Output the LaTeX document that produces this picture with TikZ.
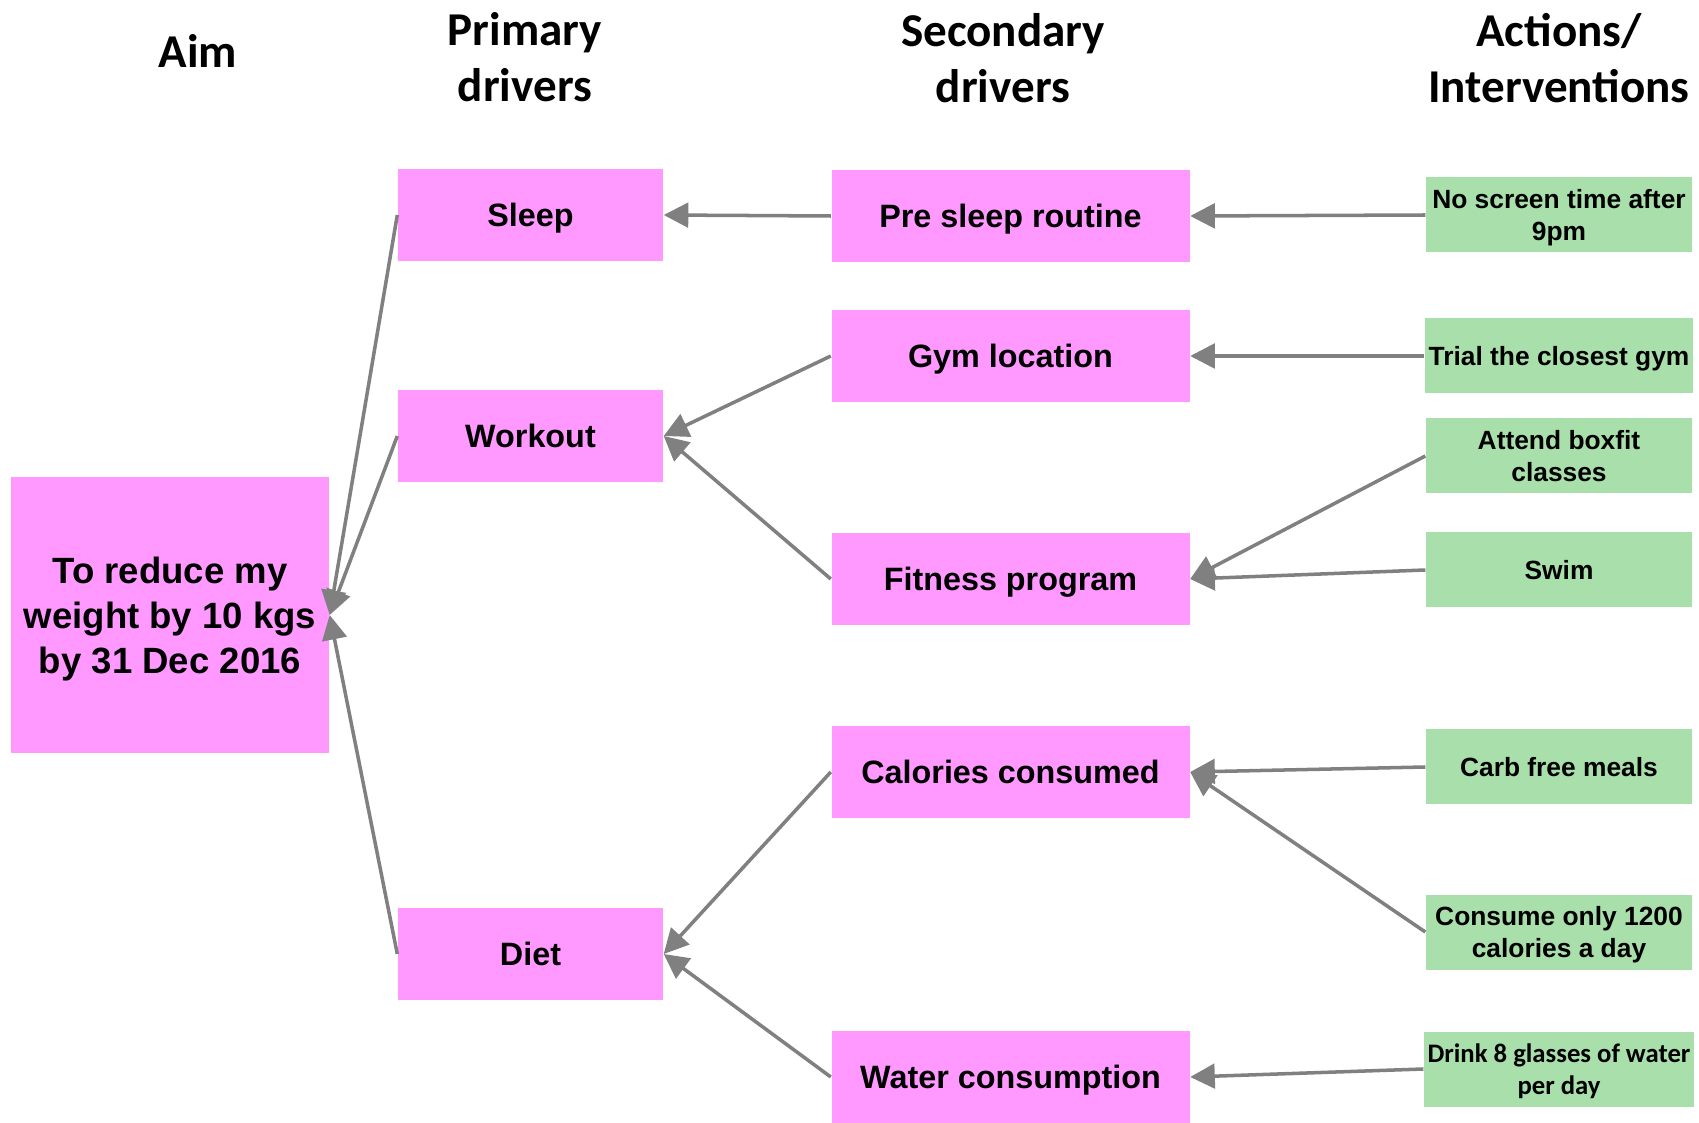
\documentclass[tikz,border=0pt]{standalone}
\usepackage{fontspec}
\setmainfont{Liberation Sans}
\newfontfamily\calibri{Carlito}
\definecolor{pinkbox}{RGB}{255,153,255}
\definecolor{greenbox}{RGB}{169,223,171}
\definecolor{arrowgray}{RGB}{128,128,128}
\usepackage{tikz}
\usetikzlibrary{arrows.meta}

\begin{document}
\begin{tikzpicture}[
  head/.style={font=\calibri\bfseries\fontsize{13.4}{16}\selectfont,align=center},
  aimbox/.style={fill=pinkbox,minimum width=3.18cm,minimum height=2.76cm,text depth=0pt,
                 font=\bfseries\fontsize{10.4}{12.8}\selectfont,align=center},
  pbox/.style={fill=pinkbox,minimum width=2.65cm,minimum height=0.92cm,text depth=0pt,
               font=\bfseries\fontsize{9.2}{11}\selectfont,align=center},
  sbox/.style={pbox,minimum width=3.58cm},
  abox/.style={fill=greenbox,minimum width=2.66cm,minimum height=0.75cm,inner sep=1pt,
               text depth=0pt,font=\bfseries\fontsize{7.5}{9.25}\selectfont,align=center},
  link/.style={draw=arrowgray,line width=1pt,-{Triangle[length=7pt,width=7pt]}}
]
  \useasboundingbox (0,0) rectangle (16.99,11.22);
  % column heads
  \node[head] (haim) at (1.98,10.71) {Aim};
  \node[head] (hprim) at (5.25,10.65) {Primary\\drivers};
  \node[head] (hsec) at (10.03,10.64) {Secondary\\drivers};
  \node[head] (hact) at (15.59,10.64) {Actions/\\Interventions};

  % aim
  \node[aimbox] (aim) at (1.70,5.07) {To reduce my\\weight by 10 kgs\\by 31 Dec 2016};

  % primary drivers
  \node[pbox] (sleep)   at (5.305,9.07) {Sleep};
  \node[pbox] (workout) at (5.305,6.86) {Workout};
  \node[pbox] (diet)    at (5.305,1.68) {Diet};

  % secondary drivers
  \node[sbox] (presleep) at (10.105,9.06) {Pre sleep routine};
  \node[sbox] (gym)      at (10.105,7.66) {Gym location};
  \node[sbox] (fitness)  at (10.105,5.43) {Fitness program};
  \node[sbox] (calories) at (10.105,3.50) {Calories consumed};
  \node[sbox] (water)    at (10.105,0.45) {Water consumption};

  % actions
  \node[abox] (noscreen)   at (15.59,9.07) {No screen time after\\9pm};
  \node[abox] (trialgym)   at (15.59,7.66) {Trial the closest gym};
  \node[abox] (boxfit)     at (15.59,6.66) {Attend boxfit\\classes};
  \node[abox] (swim)       at (15.59,5.52) {Swim};
  \node[abox] (carbfree)   at (15.59,3.55) {Carb free meals};
  \node[abox] (onlycal)    at (15.59,1.90) {Consume only 1200\\calories a day};
  \node[abox,font=\calibri\bfseries\fontsize{7.6}{9.25}\selectfont] (drinkwater) at (15.59,0.53)
    {Drink 8 glasses of water\\per day};

  % links
  \draw[link] (sleep.west) -- (aim.east);
  \draw[link] (workout.west) -- (aim.east);
  \draw[link] (diet.west) -- (aim.east);
  \draw[link] (presleep.west) -- (sleep.east);
  \draw[link] (gym.west) -- (workout.east);
  \draw[link] (fitness.west) -- (workout.east);
  \draw[link] (calories.west) -- (diet.east);
  \draw[link] (water.west) -- (diet.east);
  \draw[link] (noscreen.west) -- (presleep.east);
  \draw[link] (trialgym.west) -- (gym.east);
  \draw[link] (boxfit.west) -- (fitness.east);
  \draw[link] (swim.west) -- (fitness.east);
  \draw[link] (carbfree.west) -- (calories.east);
  \draw[link] (onlycal.west) -- (calories.east);
  \draw[link] (drinkwater.west) -- (water.east);
\end{tikzpicture}
\end{document}
